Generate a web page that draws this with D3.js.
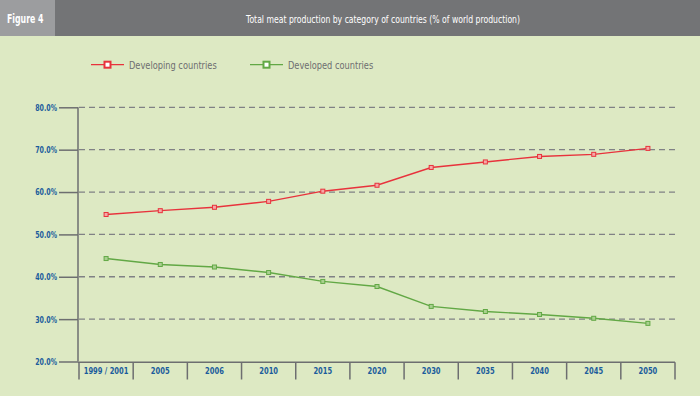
<!DOCTYPE html>
<html>
<head>
<meta charset="utf-8">
<script src="https://cdn.jsdelivr.net/npm/d3@7"></script>
<style>
  body { margin: 0; background: #dde9c3; }
  svg { display: block; font-family: "DejaVu Sans", sans-serif; }
</style>
</head>
<body>
<svg width="700" height="396"></svg>
<script>
const years = ['1999 / 2001', '2005', '2006', '2010', '2015', '2020', '2030', '2035', '2040', '2045', '2050']
const developing = [54.7, 55.6, 56.4, 57.8, 60.2, 61.6, 65.8, 67.1, 68.4, 68.9, 70.3]
const developed = [44.3, 42.9, 42.3, 41.0, 38.9, 37.7, 33.0, 31.8, 31.1, 30.2, 29.0]
const yTicks = [20, 30, 40, 50, 60, 70, 80]

const red = '#e8323c'
const green = '#62a845'
const axisGrey = '#6d6e70'
const blue = '#1b5c9c'

// squeeze text horizontally, the original uses a condensed face
function condense(sel, k) {
  sel.each(function() {
    const w = this.getComputedTextLength()
    d3.select(this).attr('textLength', w * k).attr('lengthAdjust', 'spacingAndGlyphs')
  })
}

function draw() {
  const svg = d3.select('svg')

  svg.append('rect').attr('width', 700).attr('height', 396).attr('fill', '#dde9c3')

  // header
  svg.append('rect').attr('width', 700).attr('height', 36).attr('fill', '#737476')
  svg.append('rect').attr('width', 55).attr('height', 36).attr('fill', '#9c9d9f')
  svg.append('text').attr('x', 7).attr('y', 23).attr('fill', '#fff')
    .style('font-size', '12px').style('font-weight', 'bold').text('Figure 4')
    .attr('textLength', 36.5).attr('lengthAdjust', 'spacingAndGlyphs')
  svg.append('text').attr('x', 246).attr('y', 23).attr('fill', '#fff')
    .style('font-size', '11px')
    .text('Total meat production by category of countries (% of world production)')
    .attr('textLength', 274).attr('lengthAdjust', 'spacingAndGlyphs')

  const x = d3.scaleBand().domain(years).range([79, 675]).padding(0)
  const y = d3.scaleLinear().domain([20, 80]).range([361.5, 107.3])

  // gridlines
  svg.append('g').selectAll('line')
    .data(yTicks.filter(d => d > 20))
    .join('line')
    .attr('x1', 79).attr('x2', 678)
    .attr('y1', d => y(d)).attr('y2', d => y(d))
    .attr('stroke', '#808185').attr('stroke-width', 1.3)
    .attr('stroke-dasharray', '6,4')

  // y axis
  const yAxis = svg.append('g').attr('transform', 'translate(78,0)')
    .call(d3.axisLeft(y).tickValues(yTicks).tickSize(19).tickPadding(2)
      .tickFormat(d => d3.format('.1f')(d) + '%'))
  yAxis.select('.domain').attr('stroke', axisGrey).attr('stroke-width', 1.5)
    .attr('d', `M0,${y(80)}V${y(20)}`)
  yAxis.selectAll('.tick line').attr('stroke', axisGrey).attr('stroke-width', 1.5)
  yAxis.selectAll('.tick text').attr('fill', blue)
    .style('font-size', '9px').style('font-weight', 'bold')
    .style('font-family', '"DejaVu Sans", sans-serif')
    .call(condense, 0.7)

  // x band axis
  const xg = svg.append('g')
  xg.append('line').attr('x1', 78).attr('x2', x.range()[1])
    .attr('y1', 362.3).attr('y2', 362.3)
    .attr('stroke', axisGrey).attr('stroke-width', 1.5)
  xg.selectAll('line.div')
    .data(years.map(d => x(d)).concat([x.range()[1]]))
    .join('line').attr('class', 'div')
    .attr('x1', d => d).attr('x2', d => d)
    .attr('y1', 362.3).attr('y2', 379.5)
    .attr('stroke', axisGrey).attr('stroke-width', 1.5)
  xg.selectAll('text')
    .data(years)
    .join('text')
    .attr('x', d => x(d) + x.bandwidth() / 2)
    .attr('y', 374)
    .attr('text-anchor', 'middle')
    .attr('fill', blue)
    .style('font-size', '9px').style('font-weight', 'bold')
    .text(d => d)
    .call(condense, 0.75)

  const line = d3.line()
    .x((d, i) => x(years[i]) + x.bandwidth() / 2)
    .y(d => y(d))

  const series = [
    { name: 'Developing countries', values: developing, color: red, fill: '#f4a9a6' },
    { name: 'Developed countries', values: developed, color: green, fill: '#a9d08f' }
  ]

  series.forEach(function(s) {
    svg.append('path').datum(s.values)
      .attr('d', line).attr('fill', 'none')
      .attr('stroke', s.color).attr('stroke-width', 1.4)
    svg.append('g').selectAll('rect')
      .data(s.values)
      .join('rect')
      .attr('x', (d, i) => x(years[i]) + x.bandwidth() / 2 - 2)
      .attr('y', d => y(d) - 2)
      .attr('width', 4).attr('height', 4)
      .attr('fill', s.fill).attr('stroke', s.color).attr('stroke-width', 1)
  })

  // legend
  const legendX = [91, 250]
  series.forEach(function(s, i) {
    const g = svg.append('g').attr('transform', `translate(${legendX[i]},64.7)`)
    g.append('line').attr('x1', 0).attr('x2', 33).attr('stroke', s.color).attr('stroke-width', 1.3)
    g.append('rect').attr('x', 13.5).attr('y', -3).attr('width', 6).attr('height', 6)
      .attr('fill', '#fff').attr('stroke', s.color).attr('stroke-width', 2)
    g.append('text').attr('x', 38).attr('y', 4).attr('fill', '#6d6e70')
      .style('font-size', '11px').text(s.name)
      .call(condense, 0.75)
  })
}

draw()
</script>
</body>
</html>
